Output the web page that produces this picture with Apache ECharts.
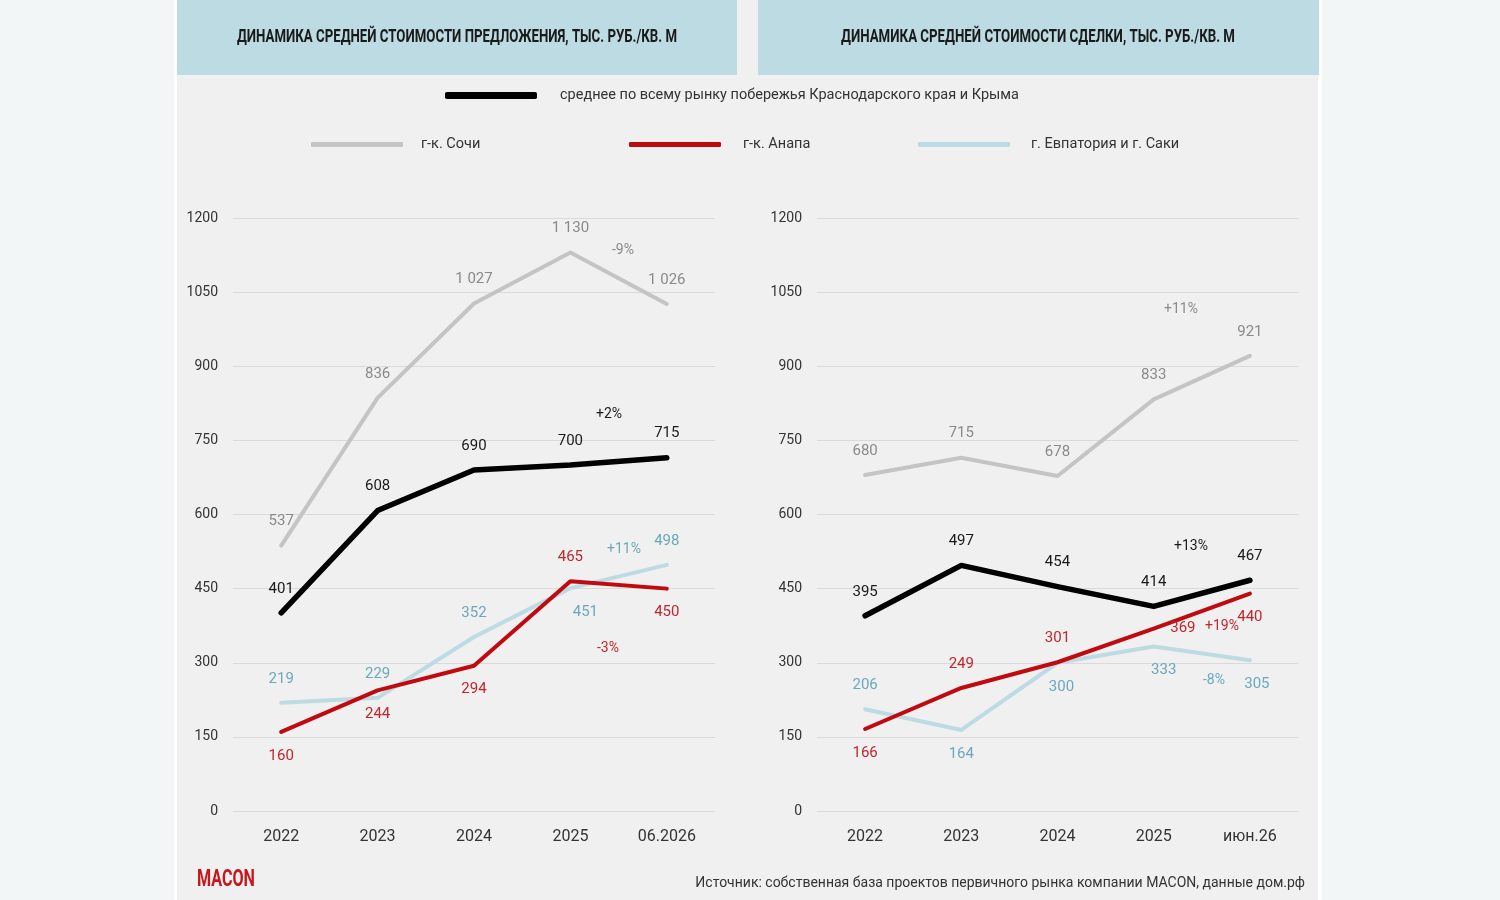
<!DOCTYPE html>
<html>
<head>
<meta charset="utf-8">
<script src="https://cdn.jsdelivr.net/npm/echarts@6/dist/echarts.min.js"></script>
<style>
  html, body { margin: 0; padding: 0; background: #f3f6f7; }
  #main { width: 1500px; height: 900px; }
</style>
</head>
<body>
<div id="main"></div>
<script>
// categories
var yearsOffer = ['2022', '2023', '2024', '2025', '06.2026'];
var yearsDeal = ['2022', '2023', '2024', '2025', 'июн.26'];
var yTicks = [0, 150, 300, 450, 600, 750, 900, 1050, 1200];

// средняя стоимость предложения
var avgOffer = [401, 608, 690, 700, 715];
var sochiOffer = [537, 836, 1027, 1130, 1026];
var anapaOffer = [160, 244, 294, 465, 450];
var evpOffer = [219, 229, 352, 451, 498];

// средняя стоимость сделки
var avgDeal = [395, 497, 454, 414, 467];
var sochiDeal = [680, 715, 678, 833, 921];
var anapaDeal = [166, 249, 301, 369, 440];
var evpDeal = [206, 164, 300, 333, 305];

// подписи изменений
var pctOffer = ['-9%', '+2%', '+11%', '-3%'];
var pctDeal = ['+11%', '+13%', '+19%', '-8%'];

var NAME_AVG = 'среднее по всему рынку побережья Краснодарского края и Крыма';
var NAME_SOCHI = 'г-к. Сочи';
var NAME_ANAPA = 'г-к. Анапа';
var NAME_EVP = 'г. Евпатория и г. Саки';

var C_AVG = '#000000', C_SOCHI = '#c4c4c4', C_ANAPA = '#c00a10', C_EVP = '#bddbe3';
var L_AVG = '#1a1a1a', L_SOCHI = '#8a8a8a', L_ANAPA = '#c2262c', L_EVP = '#6aa8bc';

var FONT = 'Roboto, "Noto Sans", sans-serif';

// where each value label sits: 't' above, 'b' below, 'r' right; optional x shift
var lbl = {
  avgOffer: ['t', 't', 't', 't', 't'],
  sochiOffer: ['t', 't', 't', 't', 't'],
  anapaOffer: ['b', 'b', 'b', 't', 'b'],
  evpOffer: ['t', 't', 't', 'b+15', 't'],
  avgDeal: ['t', 't', 't', 't', 't'],
  sochiDeal: ['t', 't', 't', 't', 't'],
  anapaDeal: ['b', 't', 't', 'r', 'b'],
  evpDeal: ['t', 'b', 'b+4', 'b+10', 'b+7']
};

function fmt(v) {
  return String(v).replace(/\B(?=(\d{3})+(?!\d))/g, ' ');
}

// squeeze text horizontally to the width it has in the original (condensed face)
var measureCtx = document.createElement('canvas').getContext('2d');
function fitScale(text, font, width) {
  measureCtx.font = font;
  return width / measureCtx.measureText(text).width;
}

function buildData(values, spec) {
  return values.map(function (v, i) {
    var s = spec[i];
    var pos = s[0] === 't' ? 'top' : (s[0] === 'b' ? 'bottom' : 'right');
    var dx = s.length > 1 ? parseInt(s.slice(1), 10) : 0;
    return { value: v, label: { position: pos, offset: [dx, 0] } };
  });
}

function makeSeries(name, values, spec, idx, color, labelColor, width, z) {
  return {
    name: name,
    type: 'line',
    xAxisIndex: idx,
    yAxisIndex: idx,
    data: buildData(values, spec),
    symbol: 'circle',
    symbolSize: 1,
    itemStyle: { color: color },
    lineStyle: { color: color, width: width, cap: 'round', join: 'round' },
    z: z,
    label: {
      show: true,
      distance: 16,
      color: labelColor,
      fontFamily: FONT,
      fontSize: 15,
      formatter: function (p) { return fmt(p.value); }
    },
    emphasis: { disabled: true },
    animation: false
  };
}

function pctText(x, y, text, color) {
  return {
    type: 'text', x: x, y: y, z: 10,
    style: {
      text: text, fill: color, font: '14px ' + FONT,
      align: 'center', verticalAlign: 'middle'
    }
  };
}

function squeezedText(x, y, text, font, width, color, align) {
  return {
    type: 'text', x: x, y: y, z: 5,
    scaleX: fitScale(text, font, width),
    style: { text: text, fill: color, font: font, align: align, verticalAlign: 'middle' }
  };
}

function legendAt(name, left, top, h, gap) {
  return {
    data: [name],
    left: left,
    top: top,
    padding: 0,
    icon: 'roundRect',
    itemWidth: 92,
    itemHeight: h,
    selectedMode: false,
    textStyle: {
      color: '#333', fontFamily: FONT, fontSize: 14.5,
      padding: [0, 0, 0, gap]
    }
  };
}

function xAxisCfg(cats, idx) {
  return {
    type: 'category', gridIndex: idx, data: cats,
    axisLine: { show: false }, axisTick: { show: false },
    axisLabel: { color: '#333', fontFamily: FONT, fontSize: 16, margin: 18 }
  };
}

function yAxisCfg(idx) {
  return {
    type: 'value', gridIndex: idx,
    min: yTicks[0], max: yTicks[yTicks.length - 1], interval: yTicks[1] - yTicks[0],
    axisLine: { show: false }, axisTick: { show: false },
    axisLabel: {
      color: '#333', fontFamily: FONT, fontSize: 14, margin: 15,
      formatter: function (v) { return String(v); }
    },
    splitLine: { lineStyle: { color: '#dadada', width: 1 } }
  };
}

var chart = echarts.init(document.getElementById('main'), null, { renderer: 'canvas' });

var TITLE_FONT = 'bold 18px ' + FONT;
var title1 = 'ДИНАМИКА СРЕДНЕЙ СТОИМОСТИ ПРЕДЛОЖЕНИЯ, ТЫС. РУБ./КВ. М';
var title2 = 'ДИНАМИКА СРЕДНЕЙ СТОИМОСТИ СДЕЛКИ, ТЫС. РУБ./КВ. М';

var option = {
  backgroundColor: 'transparent',
  animation: false,
  grid: [
    { left: 233, right: 785, top: 218, bottom: 89 },
    { left: 817, right: 202, top: 218, bottom: 89 }
  ],
  xAxis: [xAxisCfg(yearsOffer, 0), xAxisCfg(yearsDeal, 1)],
  yAxis: [yAxisCfg(0), yAxisCfg(1)],
  legend: [
    legendAt(NAME_AVG, 445, 88, 7, 18),
    legendAt(NAME_SOCHI, 311, 137, 5, 13),
    legendAt(NAME_ANAPA, 629, 137, 5, 17),
    legendAt(NAME_EVP, 918, 137, 5, 16)
  ],
  series: [
    makeSeries(NAME_SOCHI, sochiOffer, lbl.sochiOffer, 0, C_SOCHI, L_SOCHI, 4, 2),
    makeSeries(NAME_EVP, evpOffer, lbl.evpOffer, 0, C_EVP, L_EVP, 4, 3),
    makeSeries(NAME_ANAPA, anapaOffer, lbl.anapaOffer, 0, C_ANAPA, L_ANAPA, 4, 4),
    makeSeries(NAME_AVG, avgOffer, lbl.avgOffer, 0, C_AVG, L_AVG, 5.5, 5),
    makeSeries(NAME_SOCHI, sochiDeal, lbl.sochiDeal, 1, C_SOCHI, L_SOCHI, 4, 2),
    makeSeries(NAME_EVP, evpDeal, lbl.evpDeal, 1, C_EVP, L_EVP, 4, 3),
    makeSeries(NAME_ANAPA, anapaDeal, lbl.anapaDeal, 1, C_ANAPA, L_ANAPA, 4, 4),
    makeSeries(NAME_AVG, avgDeal, lbl.avgDeal, 1, C_AVG, L_AVG, 5.5, 5)
  ],
  graphic: [
    { type: 'rect', z: -10, shape: { x: 174, y: 0, width: 1148, height: 900 }, style: { fill: '#ffffff' } },
    { type: 'rect', z: -9, shape: { x: 177, y: 0, width: 1141, height: 900 }, style: { fill: '#f0f0f0' } },
    { type: 'rect', z: -8, shape: { x: 177, y: 0, width: 560, height: 75 }, style: { fill: '#bddbe2' } },
    { type: 'rect', z: -8, shape: { x: 758, y: 0, width: 561, height: 75 }, style: { fill: '#bddbe2' } },
    squeezedText(457, 37, title1, TITLE_FONT, 440, '#1a1a1a', 'center'),
    squeezedText(1038, 37, title2, TITLE_FONT, 394, '#1a1a1a', 'center'),
    squeezedText(197, 880, 'MACON', 'bold 24px ' + FONT, 58, '#c8161d', 'left'),
    {
      type: 'text', x: 1305, y: 883, z: 5,
      style: {
        text: 'Источник: собственная база проектов первичного рынка компании MACON, данные дом.рф',
        fill: '#333', font: '14px ' + FONT, align: 'right', verticalAlign: 'middle'
      }
    },
    pctText(623, 250, pctOffer[0], L_SOCHI),
    pctText(609, 414, pctOffer[1], L_AVG),
    pctText(624, 549, pctOffer[2], L_EVP),
    pctText(608, 648, pctOffer[3], L_ANAPA),
    pctText(1181, 309, pctDeal[0], L_SOCHI),
    pctText(1191, 546, pctDeal[1], L_AVG),
    pctText(1222, 626, pctDeal[2], L_ANAPA),
    pctText(1214, 680, pctDeal[3], L_EVP)
  ]
};

chart.setOption(option);
</script>
</body>
</html>
